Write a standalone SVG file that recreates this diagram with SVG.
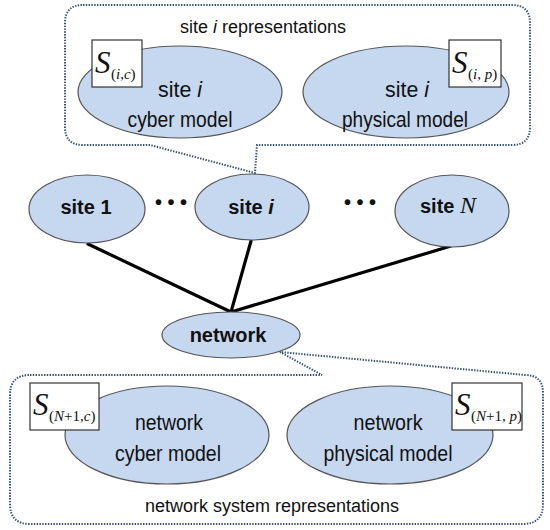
<svg xmlns="http://www.w3.org/2000/svg" width="550" height="530" viewBox="0 0 550 530">
<style>
.call{fill:none;stroke:#34506e;stroke-width:2;stroke-dasharray:1.4 1.4;}
.node{fill:#c6d8ef;stroke:#555;stroke-width:1.2;}
.box{fill:#fff;stroke:#333;stroke-width:1.2;}
.conn{stroke:#000;stroke-width:3.2;stroke-linecap:round;}
.t{font-family:"Liberation Sans",Arial,sans-serif;font-size:21.5px;fill:#111;text-anchor:middle;}
.b{font-family:"Liberation Sans",Arial,sans-serif;font-size:20px;font-weight:bold;fill:#111;text-anchor:middle;}
.cap{font-family:"Liberation Sans",Arial,sans-serif;font-size:18px;fill:#111;text-anchor:middle;}
.S{font-family:"Liberation Serif","Times New Roman",serif;font-style:italic;font-size:31px;fill:#111;}
.sub{font-family:"Liberation Serif","Times New Roman",serif;font-size:15px;fill:#111;}
.it{font-style:italic;}
</style>
<rect width="550" height="530" fill="#fff"/>
<g id="callout-site-i">
<path class="call" d="M83 5 L512 5 Q530 5 530 23 L530 127 Q530 145 512 145 L257 145 L255 173 L150 145 L83 145 Q65 145 65 127 L65 23 Q65 5 83 5 Z"/>
<text class="cap" x="263" y="33">site <tspan class="it">i</tspan> representations</text>
</g>
<g id="callout-network">
<path class="call" d="M30 375 L322 375 L280 352 L525 375 Q543 375 543 393 L543 504 Q543 524 523 524 L30 524 Q10 524 10 504 L10 395 Q10 375 30 375 Z"/>
<text class="cap" x="272" y="512">network system representations</text>
</g>
<g id="connectors">
<line class="conn" x1="88" y1="244" x2="231" y2="312"/>
<line class="conn" x1="251" y1="241" x2="231" y2="312"/>
<line class="conn" x1="451" y1="246" x2="231" y2="312"/>
</g>
<g id="site-i-cyber">
<ellipse class="node" cx="180" cy="92" rx="102" ry="46"/>
<text class="t" x="180" y="97" textLength="44" lengthAdjust="spacingAndGlyphs">site <tspan class="it">i</tspan></text>
<text class="t" x="180" y="127" textLength="105" lengthAdjust="spacingAndGlyphs">cyber model</text>
<rect class="box" x="92" y="40" width="50" height="47"/>
<text class="S" x="95" y="73">S</text>
<text class="sub" x="111" y="79">(<tspan class="it">i</tspan>,<tspan class="it">c</tspan>)</text>
</g>
<g id="site-i-physical">
<ellipse class="node" cx="406" cy="92" rx="103" ry="46"/>
<text class="t" x="407" y="97" textLength="44" lengthAdjust="spacingAndGlyphs">site <tspan class="it">i</tspan></text>
<text class="t" x="405" y="127" textLength="126" lengthAdjust="spacingAndGlyphs">physical model</text>
<rect class="box" x="449" y="40" width="52" height="47"/>
<text class="S" x="452" y="73">S</text>
<text class="sub" x="468" y="79">(<tspan class="it">i</tspan>, <tspan class="it">p</tspan>)</text>
</g>
<g id="site-1">
<ellipse class="node" cx="87" cy="209" rx="58" ry="34"/>
<text class="b" x="86" y="214">site 1</text>
</g>
<g id="dots">
<text class="b" x="171" y="209">• • •</text>
<text class="b" x="360" y="209">• • •</text>
</g>
<g id="site-i">
<ellipse class="node" cx="252" cy="207" rx="57" ry="33"/>
<text class="b" x="251" y="214">site  <tspan class="it">i</tspan></text>
</g>
<g id="site-N">
<ellipse class="node" cx="452" cy="211" rx="57" ry="36"/>
<text class="b" x="448" y="213">site <tspan font-family="'Liberation Serif','Times New Roman',serif" font-style="italic" font-weight="normal" font-size="24px">N</tspan></text>
</g>
<g id="network">
<ellipse class="node" cx="231" cy="335" rx="69" ry="23"/>
<text class="b" x="228" y="342">network</text>
</g>
<g id="network-cyber">
<ellipse class="node" cx="167" cy="435" rx="102" ry="49"/>
<text class="t" x="169" y="430" textLength="68" lengthAdjust="spacingAndGlyphs">network</text>
<text class="t" x="168" y="461" textLength="106" lengthAdjust="spacingAndGlyphs">cyber model</text>
<rect class="box" x="30" y="383" width="69" height="47"/>
<text class="S" x="33" y="415">S</text>
<text class="sub" x="49" y="421">(<tspan class="it">N</tspan>+1,<tspan class="it">c</tspan>)</text>
</g>
<g id="network-physical">
<ellipse class="node" cx="390" cy="435" rx="103" ry="49"/>
<text class="t" x="388" y="430" textLength="69" lengthAdjust="spacingAndGlyphs">network</text>
<text class="t" x="388" y="461" textLength="129" lengthAdjust="spacingAndGlyphs">physical model</text>
<rect class="box" x="452" y="383" width="70" height="47"/>
<text class="S" x="455" y="415">S</text>
<text class="sub" x="471" y="421">(<tspan class="it">N</tspan>+1, <tspan class="it">p</tspan>)</text>
</g>
</svg>
